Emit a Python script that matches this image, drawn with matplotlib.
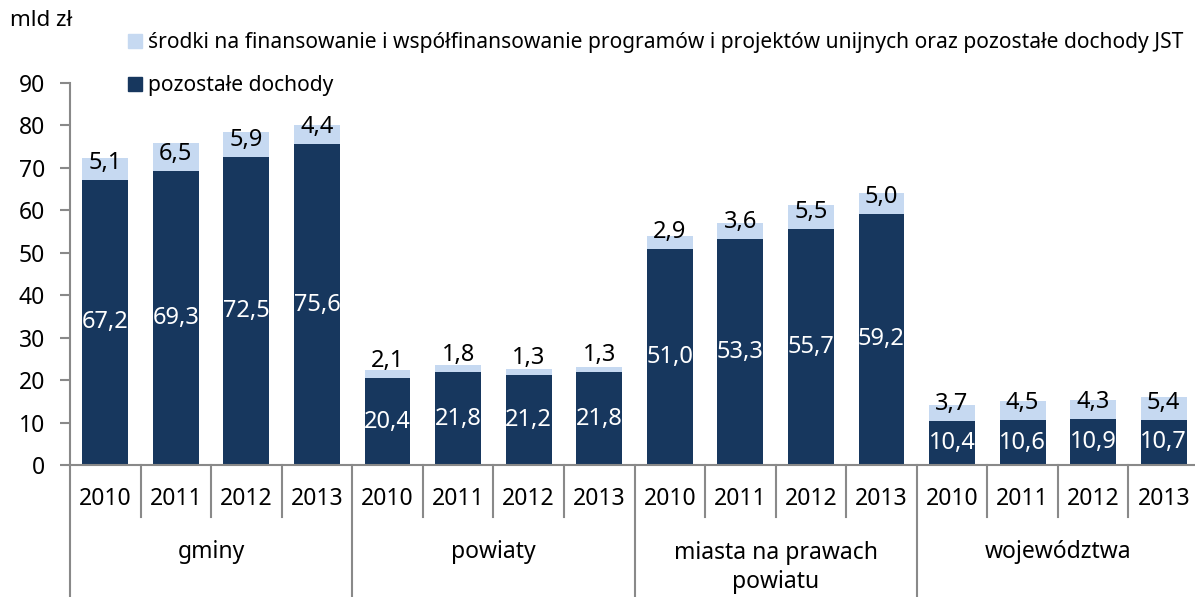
import numpy as np
import matplotlib
matplotlib.use('Agg')
import matplotlib.pyplot as plt
from matplotlib.patches import Patch

plt.rcParams['font.family'] = ['Noto Sans', 'DejaVu Sans']

groups = ['gminy', 'powiaty', 'miasta na prawach\npowiatu', 'województwa']
years = ['2010', '2011', '2012', '2013']

# pozostale dochody (dark) and srodki UE (light), per group 2010-2013
pozostale = [67.2, 69.3, 72.5, 75.6,
             20.4, 21.8, 21.2, 21.8,
             51.0, 53.3, 55.7, 59.2,
             10.4, 10.6, 10.9, 10.7]
srodki = [5.1, 6.5, 5.9, 4.4,
          2.1, 1.8, 1.3, 1.3,
          2.9, 3.6, 5.5, 5.0,
          3.7, 4.5, 4.3, 5.4]

lab_light = 'środki na finansowanie i współfinansowanie programów i projektów unijnych oraz pozostałe dochody JST'
lab_dark = 'pozostałe dochody'

dark = '#17375E'
light = '#C6D9F1'
gray = '#898989'

pozostale = np.array(pozostale)
srodki = np.array(srodki)
x = np.arange(len(pozostale))

fig = plt.figure(figsize=[11.95, 5.97], dpi=100)
ax = fig.add_axes([70/1195, 132/597, 1129/1195, 382/597])

ax.bar(x, pozostale, 0.65, color=dark)
ax.bar(x, srodki, 0.65, bottom=pozostale, color=light)

for i in x:
    ax.text(i, pozostale[i]/2, ('%.1f' % pozostale[i]).replace('.', ','),
            ha='center', va='center', color='white', fontsize=17)
    yl = max(pozostale[i] + srodki[i]/2, pozostale[i] + 4.0)
    ax.text(i, yl, ('%.1f' % srodki[i]).replace('.', ','),
            ha='center', va='center', color='black', fontsize=17)

ax.set_xlim(-0.5, len(x) - 0.5)
ax.set_ylim(0, 90)
ax.set_yticks(np.arange(0, 100, 10))
ax.tick_params(axis='y', labelsize=16.5, length=7, width=1.5, color=gray, pad=11)
ax.set_xticks([])
for sp in ['top', 'right']:
    ax.spines[sp].set_visible(False)
for sp in ['left', 'bottom']:
    ax.spines[sp].set_color(gray)
    ax.spines[sp].set_linewidth(1.5)

# two level category axis
tr = ax.get_xaxis_transform()
for b in np.arange(-0.5, len(x), 1.0):
    if (b + 0.5) % 4 == 0:
        ax.plot([b, b], [0, -0.36], transform=tr, color=gray, lw=1.5, clip_on=False)
    else:
        ax.plot([b, b], [0, -0.136], transform=tr, color=gray, lw=1.5, clip_on=False)
for i in x:
    ax.text(i, -0.089, years[i % 4], transform=tr, ha='center', va='center', fontsize=16.5)
for g in range(len(groups)):
    yg = -0.268 if '\n' in groups[g] else -0.228
    ax.text(4*g + 1.5, yg, groups[g], transform=tr, ha='center', va='center',
            fontsize=16.5, linespacing=1.3)

fig.text(10/1195, 1 - 20/597, 'mld zł', ha='left', va='center', fontsize=16)

handles = [Patch(color=light), Patch(color=dark)]
fig.legend(handles, [lab_light, lab_dark], loc='upper left',
           bbox_to_anchor=(128/1195, 1 - 32/597), frameon=False, fontsize=15.1,
           handlelength=0.65, handleheight=0.65, handletextpad=0.3,
           labelspacing=1.07, borderpad=0, borderaxespad=0)

fig.savefig('out.png', dpi=100)
